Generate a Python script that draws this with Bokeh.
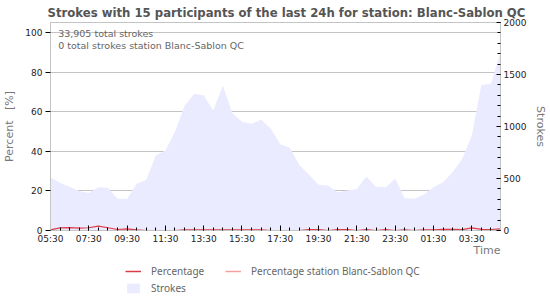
from bokeh.plotting import figure
from bokeh.layouts import column
from bokeh.models import Range1d, LinearAxis, FixedTicker, Legend, LegendItem, Label, Title
from bokeh.embed import file_html
from bokeh.resources import INLINE

# ---- data ----
times = ["05:30", "06:00", "06:30", "07:00", "07:30", "08:00", "08:30", "09:00",
         "09:30", "10:00", "10:30", "11:00", "11:30", "12:00", "12:30", "13:00",
         "13:30", "14:00", "14:30", "15:00", "15:30", "16:00", "16:30", "17:00",
         "17:30", "18:00", "18:30", "19:00", "19:30", "20:00", "20:30", "21:00",
         "21:30", "22:00", "22:30", "23:00", "23:30", "00:00", "00:30", "01:00",
         "01:30", "02:00", "02:30", "03:00", "03:30", "04:00", "04:30", "05:00"]

strokes = [510, 460, 420, 380, 360, 415, 410, 305, 305, 449, 487, 720,
           770, 950, 1200, 1314, 1300, 1154, 1394, 1128, 1045, 1026, 1064, 980,
           830, 795, 630, 535, 440, 433, 368, 385, 400, 519, 420, 416,
           497, 310, 305, 346, 416, 464, 561, 689, 913, 1400, 1410, 1715]

percentage = [0.3, 1.3, 1.5, 1.2, 1.4, 2.2, 1.4, 0.5, 0.8, 0.3, 0, 0,
              0, 0, 0.3, 0.3, 0.3, 0.3, 0.3, 0.3, 0.3, 0.3, 0.3, 0,
              0, 0, 0, 0.5, 0.4, 0, 0.5, 0.4, 0, 0.5, 0, 0.4,
              0, 0.3, 0, 0.3, 0.3, 0.6, 0.6, 0.4, 1.3, 0.6, 0.5, 0.8]

percentage_station = [0] * 48

x_tick_labels = ["05:30", "07:30", "09:30", "11:30", "13:30", "15:30",
                 "17:30", "19:30", "21:30", "23:30", "01:30", "03:30"]

total_strokes = "33,905"
station_strokes = "0"
station = "Blanc-Sablon QC"

# hours since the first sample
def to_hours(t, start="05:30"):
    h, m = map(int, t.split(":"))
    h0, m0 = map(int, start.split(":"))
    d = (h * 60 + m) - (h0 * 60 + m0)
    if d < 0:
        d += 24 * 60
    return d / 60.0

xs = [to_hours(t) for t in times]
x_tick_pos = [to_hours(t) for t in x_tick_labels]

FILL = "#ebebff"
RED = "#dd3a4a"
PINK = "#f5a0a0"
GRID = "#c4c4c4"
TXT = "#666666"

p = figure(width=550, height=262, output_backend="svg", toolbar_location=None,
           x_range=Range1d(xs[0], xs[-1]), y_range=Range1d(0, 105),
           min_border_left=50, min_border_right=50, min_border_top=22,
           min_border_bottom=32)
p.background_fill_color = "white"
p.border_fill_color = "white"
p.outline_line_color = GRID

p.extra_y_ranges = {"strokes": Range1d(0, 2000)}

area = p.varea(x=xs, y1=0, y2=strokes, fill_color=FILL, y_range_name="strokes")
l_station = p.line(xs, percentage_station, line_color=PINK, line_width=1.2)
l_pct = p.line(xs, percentage, line_color=RED, line_width=1.2)

# x axis
xa = p.xaxis[0]
xa.ticker = FixedTicker(ticks=x_tick_pos, minor_ticks=xs)
xa.major_label_overrides = {v: s for v, s in zip(x_tick_pos, x_tick_labels)}
xa.major_tick_in = 5
xa.major_tick_out = 0
xa.minor_tick_in = 3
xa.minor_tick_out = 0
xa.axis_line_color = GRID
xa.major_tick_line_color = "black"
xa.minor_tick_line_color = "black"
xa.major_label_text_font = "DejaVu Sans"
xa.major_label_text_font_size = "9px"
xa.major_label_text_color = "#222222"
xa.major_label_standoff = 3
p.xgrid.visible = False

# left axis
ya = p.yaxis[0]
ya.ticker = FixedTicker(ticks=[0, 20, 40, 60, 80, 100], minor_ticks=[])
ya.major_tick_in = 0
ya.major_tick_out = 5
ya.axis_line_color = GRID
ya.major_tick_line_color = "black"
ya.major_label_text_font = "DejaVu Sans"
ya.major_label_text_font_size = "9px"
ya.major_label_text_color = "#222222"
ya.major_label_standoff = 3
ya.axis_label = "Percent\u00a0\u00a0\u00a0[%]"
ya.axis_label_text_font = "DejaVu Sans"
ya.axis_label_text_font_size = "11px"
ya.axis_label_text_font_style = "normal"
ya.axis_label_text_color = "#777777"
ya.axis_label_standoff = 6
p.ygrid.ticker = FixedTicker(ticks=[20, 40, 60, 80, 100])
p.ygrid.grid_line_color = GRID

# right axis
ra = LinearAxis(y_range_name="strokes",
                ticker=FixedTicker(ticks=[0, 500, 1000, 1500, 2000],
                                   minor_ticks=list(range(0, 2001, 100))))
ra.major_tick_in = 4
ra.major_tick_out = 0
ra.minor_tick_in = 3
ra.minor_tick_out = 0
ra.axis_line_color = GRID
ra.major_tick_line_color = "black"
ra.minor_tick_line_color = "black"
ra.major_label_text_font = "DejaVu Sans"
ra.major_label_text_font_size = "9px"
ra.major_label_text_color = "#222222"
ra.major_label_standoff = 3
ra.axis_label = "Strokes"
ra.axis_label_text_font = "DejaVu Sans"
ra.axis_label_text_font_size = "11px"
ra.axis_label_text_font_style = "normal"
ra.axis_label_text_color = "#777777"
ra.axis_label_standoff = 5
p.add_layout(ra, "right")

# title
title = Title(text="Strokes with 15 participants of the last 24h for station: " + station,
              align="left", offset=-3, standoff=6, text_font="DejaVu Sans",
              text_font_size="11.7px", text_font_style="bold", text_color="#555555")
p.add_layout(title, "above")

# x axis label "Time" (right aligned under the axis)
tlabel = Title(text="Time", align="right", standoff=-9, text_font="DejaVu Sans",
               text_font_size="11px", text_font_style="normal", text_color="#777777")
p.add_layout(tlabel, "below")

# texts inside the plot
p.add_layout(Label(x=0.4, y=99.5, text=total_strokes + " total strokes",
                   text_align="left", text_baseline="middle", text_font="DejaVu Sans",
                   text_font_size="9.5px", text_color=TXT))
p.add_layout(Label(x=0.4, y=93.4, text=station_strokes + " total strokes station " + station,
                   text_align="left", text_baseline="middle", text_font="DejaVu Sans",
                   text_font_size="9.5px", text_color=TXT))

# ---- legend strip under the chart ----
q = figure(width=550, height=38, output_backend="svg", toolbar_location=None,
           x_range=Range1d(0, 1), y_range=Range1d(0, 1),
           x_axis_location=None, y_axis_location=None,
           min_border_left=0, min_border_right=0, min_border_top=0, min_border_bottom=0)
q.outline_line_color = None
q.xgrid.visible = False
q.ygrid.visible = False
q.background_fill_color = "white"
q.border_fill_color = "white"
# single-point proxies (draw nothing themselves) that only provide legend swatches
k_pct = q.line(xs[:1], percentage[:1], line_color=RED, line_width=1.5)
k_station = q.line(xs[:1], percentage_station[:1], line_color=PINK, line_width=1.5)
k_area = q.varea(x=xs[:1], y1=[0], y2=[0], fill_color=FILL)

legend = Legend(items=[LegendItem(label="Percentage", renderers=[k_pct]),
                       LegendItem(label="Percentage station " + station, renderers=[k_station]),
                       LegendItem(label="Strokes", renderers=[k_area])],
                location=(75, 5), ncols=2, orientation="horizontal")
legend.glyph_width = 16
legend.glyph_height = 12
legend.label_height = 12
legend.label_width = 71
legend.label_standoff = 10
legend.spacing = 3
legend.padding = 0
legend.margin = 0
legend.border_line_color = None
legend.background_fill_alpha = 0
legend.label_text_font = "Noto Sans"
legend.label_text_font_size = "10px"
legend.label_text_color = TXT
q.add_layout(legend, "center")

layout = column(p, q, spacing=0)
open("out.html", "w").write(file_html(layout, INLINE))
